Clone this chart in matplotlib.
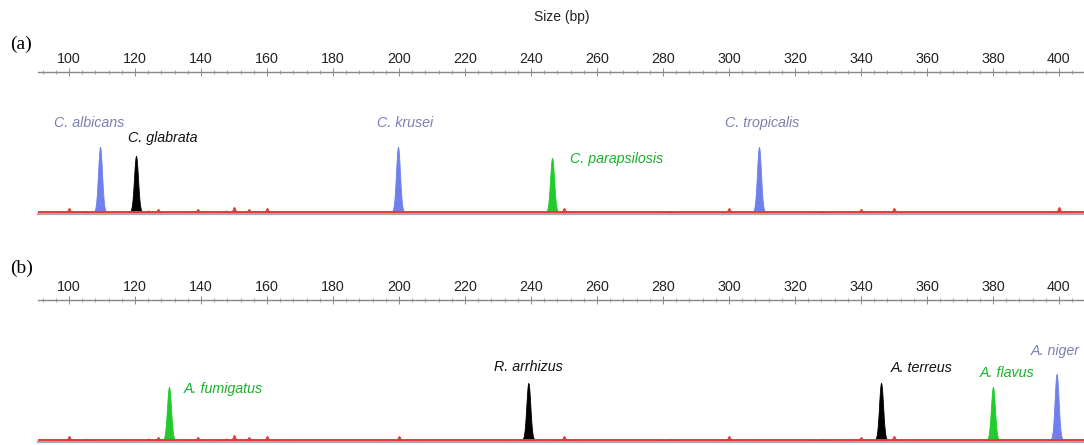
import numpy as np
import matplotlib
matplotlib.use('Agg')
import matplotlib.pyplot as plt

# fragment sizes (bp) and peak heights for each panel
sizes_a = [109.4, 120.3, 199.7, 246.4, 309.1]
heights_a = [65, 56, 65, 54, 65]
colors_a = ['blue', 'black', 'blue', 'green', 'blue']
names_a = ['C. albicans', 'C. glabrata', 'C. krusei', 'C. parapsilosis', 'C. tropicalis']

sizes_b = [130.3, 239.2, 346.1, 380.0, 399.3]
heights_b = [53, 57, 57, 53, 66]
colors_b = ['green', 'black', 'black', 'green', 'blue']
names_b = ['A. fumigatus', 'R. arrhizus', 'A. terreus', 'A. flavus', 'A. niger']

# size standard (red) and small background peaks
ladder_sizes = [100, 124, 127, 137, 139, 147.6, 150, 154.5, 160, 200, 250, 300, 340, 350, 400]
ladder_heights = [4, 1.5, 3, 1, 3, 1.5, 5, 3, 4, 4, 4, 4, 3, 4, 5]
noise_sizes = [105, 281.8, 327.9]
noise_heights = [1.2, 1.2, 1.2]

# label anchor (bp, baseline height) and alignment
label_pos_a = [(106.1, 85, 'center'), (128.5, 70, 'center'), (201.8, 85, 'center'),
               (251.8, 49, 'left'), (310.0, 85, 'center')]
label_pos_b = [(134.8, 47, 'left'), (239.1, 69, 'center'), (358.3, 68, 'center'),
               (384.2, 63, 'center'), (398.8, 85, 'center')]

fill_col = {'blue': '#6f80ec', 'green': '#1fcc2c', 'black': '#000000'}
text_col = {'blue': '#7b80b4', 'green': '#19b02c', 'black': '#111111'}
red = '#e83a3a'

plt.rcParams['font.family'] = ['Liberation Sans', 'DejaVu Sans']

fig = plt.figure(figsize=(10.84, 4.45), dpi=100)
x0, x1 = 90.6, 407.6


def draw_peak(ax, pos, h, color, width=0.6):
    xs = pos + np.linspace(-2.6, 2.6, 53)
    ys = h * np.exp(-0.5 * ((xs - pos) / width) ** 2)
    ax.fill_between(xs, 0, ys, color=color, lw=0.6, edgecolor=color, zorder=3)


def panel(rect, sizes, heights, colors, names, label_pos, tag, tag_y):
    ax = fig.add_axes(rect)
    ax.set_xlim(x0, x1)
    ax.set_ylim(-2, 140)
    for s, h in zip(ladder_sizes, ladder_heights):
        draw_peak(ax, s, h, red, width=0.35)
    for s, h in zip(noise_sizes, noise_heights):
        draw_peak(ax, s, h, '#222222', width=0.5)
    for s, h, c in zip(sizes, heights, colors):
        draw_peak(ax, s, h, fill_col[c])
    ax.axhline(0, color=red, lw=1.4, zorder=4)
    for (lx, ly, ha), name, c in zip(label_pos, names, colors):
        ax.text(lx, ly, name, color=text_col[c], fontsize=10.3, style='italic',
                ha=ha, va='baseline')

    ax.xaxis.set_ticks_position('top')
    ax.set_xticks(np.arange(100, 401, 20))
    ax.set_xticks(np.arange(92, 408, 4), minor=True)
    ax.tick_params(axis='x', which='major', direction='inout', length=6, width=0.7,
                   color='#888888', labelsize=10.3, pad=1, labelcolor='#222222')
    ax.tick_params(axis='x', which='minor', direction='inout', length=3, width=0.6,
                   color='#999999')
    ax.set_yticks([])
    for side in ['left', 'right']:
        ax.spines[side].set_visible(False)
    ax.spines['top'].set_color('#888888')
    ax.spines['top'].set_linewidth(1.0)
    ax.spines['bottom'].set_color('#aaaaaa')
    ax.spines['bottom'].set_linewidth(1.6)
    fig.text(10 / 1084, tag_y, tag, fontsize=14, family='Liberation Serif', va='center')
    return ax


panel([38 / 1084, 1 - 214 / 445, 1 - 38 / 1084, 142 / 445],
      sizes_a, heights_a, colors_a, names_a, label_pos_a, '(a)', 1 - 44 / 445)
panel([38 / 1084, 1 - 442 / 445, 1 - 38 / 1084, 142 / 445],
      sizes_b, heights_b, colors_b, names_b, label_pos_b, '(b)', 1 - 268 / 445)

fig.text(562 / 1084, 1 - 17 / 445, 'Size (bp)', fontsize=10, ha='center', va='center',
         color='#222222')

fig.savefig('out.png', dpi=100)
